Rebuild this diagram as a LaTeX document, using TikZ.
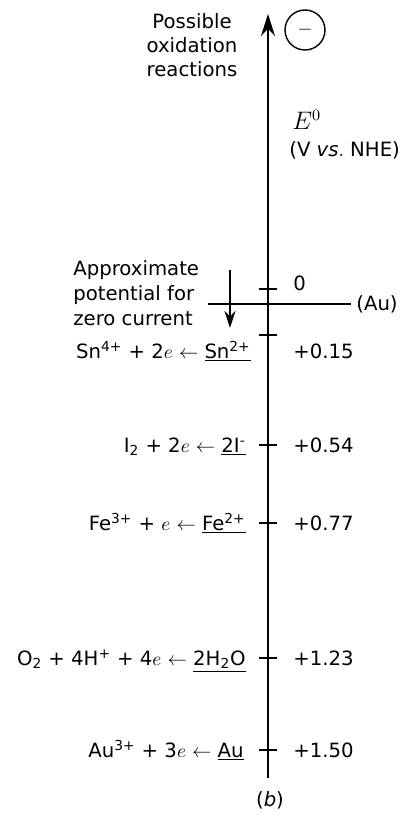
\documentclass[tikz,border=0pt]{standalone}
\usepackage{fontspec}
\setmainfont{DejaVu Sans}
\usetikzlibrary{arrows.meta, positioning}

\begin{document}
\begin{tikzpicture}[
        x=0.02cm, y=-0.02cm,
        font=\fontsize{11.2}{13.6}\selectfont,
        ax/.style={line width=1.1pt},
        tk/.style={line width=0.9pt},
        rxn/.style={anchor=base east, inner sep=0pt},
        val/.style={anchor=base west, inner sep=0pt},
      ]
      \useasboundingbox (0,0) rectangle (411,814);

      % Potential axis
      \coordinate (axbot) at (268,778);
      \coordinate (axtop) at (268,14);
      \draw[ax, -{Stealth[length=0.44cm, width=0.28cm]}] (axbot) -- (axtop);
      \node[circle, draw, line width=0.8pt, minimum size=0.8cm, inner sep=0pt]
        (neg) at (305,30) {$-$};
      \node[align=center] (oxlbl) at (192,45) {Possible\\oxidation\\reactions};
      \node[anchor=west, inner sep=0pt, font=\fontsize{13.5}{16}\selectfont]
        (elbl) at (292,120) {$E^0$};
      \node[anchor=west, inner sep=0pt] (ulbl) at (289,150) {(V $\mathit{vs.}$ NHE)};

      % Ticks
      \coordinate (t0) at (268,289);
      \coordinate (t1) at (268,335);
      \coordinate (t2) at (268,445);
      \coordinate (t3) at (268,523);
      \coordinate (t4) at (268,658);
      \coordinate (t5) at (268,750);
      \draw[tk] ([xshift=-0.18cm]t0) -- ([xshift=0.18cm]t0);
      \draw[tk] ([xshift=-0.18cm]t1) -- ([xshift=0.18cm]t1);
      \draw[tk] ([xshift=-0.18cm]t2) -- ([xshift=0.18cm]t2);
      \draw[tk] ([xshift=-0.18cm]t3) -- ([xshift=0.18cm]t3);
      \draw[tk] ([xshift=-0.18cm]t4) -- ([xshift=0.18cm]t4);
      \draw[tk] ([xshift=-0.18cm]t5) -- ([xshift=0.18cm]t5);

      % Values
      \node[val] (v0) at (293,290) {0};
      \node[val] (v1) at (293,358) {+0.15};
      \node[val] (v2) at (293,452) {+0.54};
      \node[val] (v3) at (293,530) {+0.77};
      \node[val] (v4) at (293,665) {+1.23};
      \node[val] (v5) at (293,757) {+1.50};

      % Reactions
      \node[rxn] (r1) at (251,358)
        {Sn\textsuperscript{4+} + 2$e$ $\leftarrow$ \underline{Sn\textsuperscript{2+}}};
      \node[rxn] (r2) at (246,452)
        {I\textsubscript{2} + 2$e$ $\leftarrow$ \underline{2I\textsuperscript{-}}};
      \node[rxn] (r3) at (246,530)
        {Fe\textsuperscript{3+} + $e$ $\leftarrow$ \underline{Fe\textsuperscript{2+}}};
      \node[rxn] (r4) at (246,665)
        {O\textsubscript{2} + 4H\textsuperscript{+} + 4$e$ $\leftarrow$ \underline{2H\textsubscript{2}O}};
      \node[rxn] (r5) at (244,757)
        {Au\textsuperscript{3+} + 3$e$ $\leftarrow$ \underline{Au}};

      % Zero current
      \node[anchor=east, inner sep=0pt] (au) at (398,304) {(Au)};
      \coordinate (zl) at (208,304);
      \draw[tk] (zl) -- ([xshift=-0.1cm]au.west);
      \coordinate (zarrtop) at (230,270);
      \coordinate (zarrbot) at (230,328);
      \draw[tk, -{Stealth[length=0.34cm, width=0.22cm]}] (zarrtop) -- (zarrbot);
      \node[anchor=west, align=left, inner sep=0pt,
            font=\fontsize{11.2}{14.2}\selectfont] (zlbl) at (73,293)
        {Approximate\\potential for\\zero current};

      \node (cap) at (270,800) {(\textit{b})};
      \end{tikzpicture}
\end{document}
